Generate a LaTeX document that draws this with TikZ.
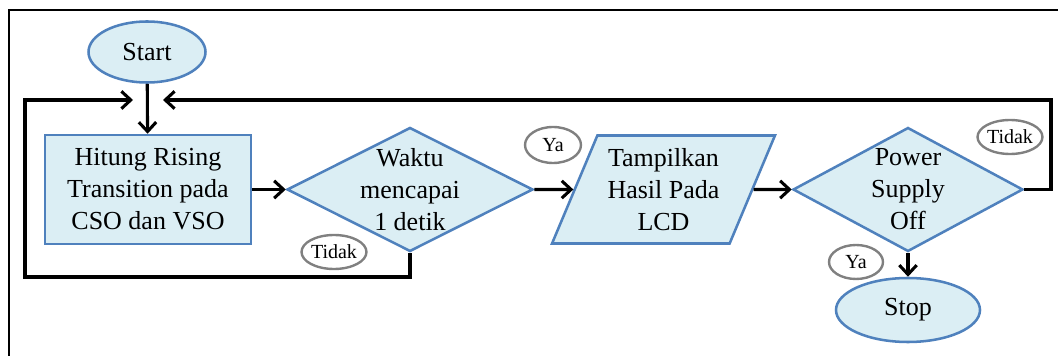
\documentclass[tikz,border=0pt]{standalone}
\usepackage{fontspec}
\setmainfont{Liberation Serif}
\usetikzlibrary{shapes.geometric,arrows.meta}

\definecolor{flowfill}{RGB}{219,238,244}
\definecolor{flowline}{RGB}{79,129,189}
\definecolor{tagline}{RGB}{128,128,128}

\tikzset{every picture/.style={line width=0.75pt}}
\tikzset{
  flowtext/.style={font=\fontsize{19.5}{24}\selectfont, align=center},
  terminal/.style={ellipse, draw=flowline, fill=flowfill, line width=1.9pt, inner sep=0pt, flowtext},
  process/.style={rectangle, draw=flowline, fill=flowfill, line width=1.9pt, inner sep=0pt, flowtext},
  decision/.style={diamond, draw=flowline, fill=flowfill, line width=1.9pt, inner sep=0pt},
  inout/.style={trapezium, trapezium left angle=65, trapezium right angle=115, trapezium stretches=true,
    draw=flowline, fill=flowfill, line width=1.9pt, inner sep=0pt, flowtext},
  tag/.style={ellipse, draw=tagline, fill=white, line width=1.8pt, inner sep=0pt,
    font=\fontsize{15}{17}\selectfont},
  flow/.style={line width=2.3pt, -{Straight Barb[length=7pt,width=13pt,line width=2.3pt]}}
}

\begin{document}
\begin{tikzpicture}[x=0.75pt,y=0.75pt,yscale=-1,xscale=1]
\useasboundingbox (0,0) rectangle (1058,356);
% Frame
\draw[line width=1.8pt] (9,370) -- (9,10) -- (1070,10);
% Terminals and blocks
\node[terminal, minimum width=87.75pt, minimum height=45.75pt] (start) at (147,52) {Start};
\node[process, minimum width=154.5pt, minimum height=81.75pt] (hitung) at (148,189.5) {Hitung Rising\\Transition pada\\CSO dan VSO};
\node[decision, minimum width=184.5pt, minimum height=93pt, label={[flowtext]center:Waktu\\mencapai\\1 detik}] (waktu) at (410,189.5) {};
\node[inout, minimum width=167.25pt, minimum height=81pt] (tampil) at (663.5,189.5) {Tampilkan\\Hasil Pada\\LCD};
\node[decision, minimum width=172.5pt, minimum height=93pt, label={[flowtext]center:Power\\Supply\\Off}] (power) at (908,189.5) {};
\node[terminal, minimum width=108pt, minimum height=48pt] (stop) at (908,310) {Stop};
% Tags
\node[tag, minimum width=46.5pt, minimum height=25.5pt] (tidakA) at (334,252) {Tidak};
\node[tag, minimum width=42pt, minimum height=27pt] (yaA) at (553,145) {Ya};
\node[tag, minimum width=42pt, minimum height=25.5pt] (tidakB) at (1010,137) {Tidak};
\node[tag, minimum width=40.5pt, minimum height=25.5pt] (yaB) at (856,262) {Ya};
% Loop ends
\coordinate (backL) at (133,100);
\coordinate (backR) at (163,100);
% Connectors
\draw[flow] (start) -- (hitung);
\draw[flow] (hitung) -- (waktu.west);
\draw[flow] (waktu.east) -- (tampil.west);
\draw[flow] (tampil.east) -- (power.west);
\draw[flow] (power.south) -- (stop);
\draw[flow] (waktu.south) -- (410,277) -- (25,277) -- (25,100) -- (backL);
\draw[flow] (power.east) -- (1051,189.5) -- (1051,100) -- (backR);
\end{tikzpicture}
\end{document}
